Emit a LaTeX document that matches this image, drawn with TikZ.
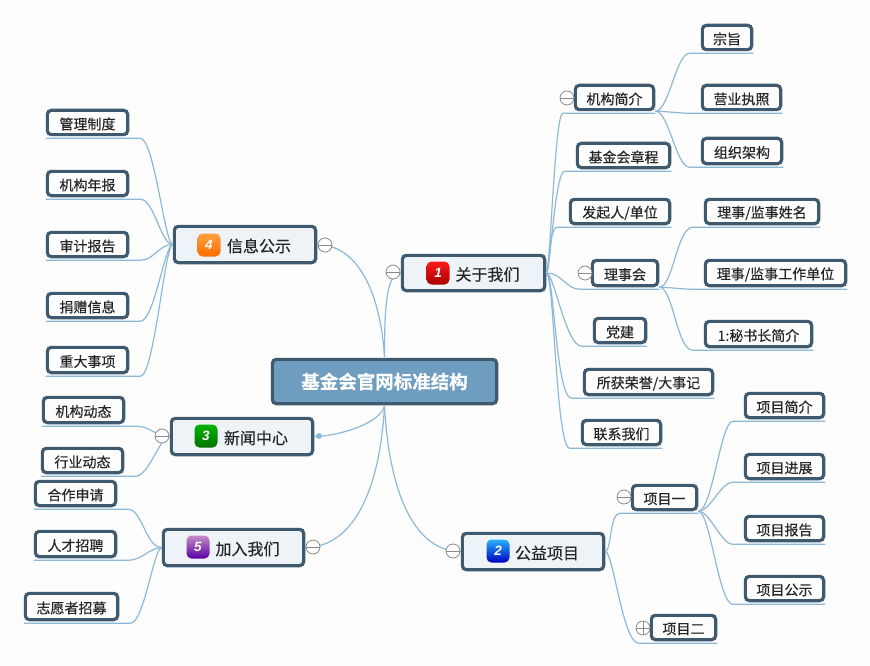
\documentclass[tikz,border=0pt]{standalone}
\usepackage{fontspec}
\setmainfont[FakeBold=0.35,BoldFont={Noto Sans CJK SC Bold}]{Noto Sans CJK SC}
\newfontfamily\numf{Liberation Sans}
\usetikzlibrary{calc}
\definecolor{bord}{HTML}{3F5A6E}
\definecolor{boxf}{HTML}{EEF3F7}
\definecolor{rootf}{HTML}{6F9DBF}
\definecolor{linec}{HTML}{8DB9D6}
\definecolor{bg}{HTML}{FDFDFD}
\definecolor{minc}{HTML}{8A8A8A}
\tikzset{
  boxbase/.style={draw=bord,line width=3.2pt,rounded corners=4pt,fill=boxf,inner sep=0pt,text=black!85},
  leafbox/.style={boxbase,fill=bg,font=\fontsize{14}{14}\selectfont},
  mainbox/.style={boxbase,font=\fontsize{16}{16}\selectfont},
  rootbox/.style={boxbase,fill=rootf,text=white,font=\fontsize{18.5}{18}\selectfont\bfseries},
  conn/.style={draw=linec,line width=1.2pt},
  badge/.style={circle,draw=minc,line width=.8pt,fill=white,minimum size=14pt,inner sep=0pt,
    path picture={\draw[minc,line width=.8pt] (path picture bounding box.west)--(path picture bounding box.east);}},
  plusbadge/.style={badge,
    path picture={\draw[minc,line width=.8pt] (path picture bounding box.north)--(path picture bounding box.south);}},
  iconbox/.style={rounded corners=5pt,minimum size=23pt,inner sep=0pt,text=white,
    font=\numf\fontsize{13.5}{13}\selectfont\bfseries\itshape},
  dotn/.style={circle,fill=linec,minimum size=6pt,inner sep=0pt},
}
\newcommand\bx[7]{\node[#6,minimum width={(#4-#2-2.7)*1pt},minimum height={(#5-#3-2.7)*1pt}] (#1) at ({(#2+#4)/2},{(#3+#5)/2}) {\raisebox{-1.5pt}[\height][\depth]{#7}};}
\newcommand\lk[5]{\draw[conn] (#1) .. controls ($(#1)+(#3,0)$) and ($(#2)+(#4,0)$) .. (#2) #5;}
% under-line connectors: curve ends a little before the child's edge, then runs under it
\newcommand\rk[4]{\lk{#1}{$(#2.south west)+(-11,2)$}{#3}{#4}{-- ($(#2.south east)+(0,2)$)}}
\newcommand\lf[4]{\lk{#1}{$(#2.south east)+(11,2)$}{#3}{#4}{-- ($(#2.south west)+(0,2)$)}}
\begin{document}
\begin{tikzpicture}[x=1pt,y=-1pt]
\useasboundingbox[fill=bg] (0,0) rectangle (870,666);
\bx{root}{271}{358}{498}{405}{rootbox}{\raisebox{1.5pt}[\height][\depth]{基金会官网标准结构}}
\bx{gy}{401}{254}{546}{292}{mainbox}{\hspace*{28pt}关于我们}
\bx{xx}{173}{225}{317}{264}{mainbox}{\hspace*{28pt}信息公示}
\bx{xw}{170}{417}{314}{456}{mainbox}{\hspace*{28pt}新闻中心}
\bx{jr}{162}{528}{305}{567}{mainbox}{\hspace*{28pt}加入我们}
\bx{gx}{461}{532}{605}{571}{mainbox}{\hspace*{28pt}公益项目}
\bx{zz}{701}{24}{753}{51}{leafbox}{宗旨}
\bx{yy}{701}{84}{782}{111}{leafbox}{营业执照}
\bx{zj}{701}{137}{783}{165}{leafbox}{组织架构}
\bx{jg}{574}{84}{655}{111}{leafbox}{机构简介}
\bx{jj}{576}{142}{671}{169}{leafbox}{基金会章程}
\bx{fq}{569}{198}{671}{225}{leafbox}{发起人/单位}
\bx{ls}{591}{259}{659}{287}{leafbox}{理事会}
\bx{dj}{593}{317}{647}{344}{leafbox}{党建}
\bx{ry}{583}{368}{714}{396}{leafbox}{所获荣誉/大事记}
\bx{lx}{581}{419}{662}{446}{leafbox}{联系我们}
\bx{lxm}{704}{198}{820}{225}{leafbox}{理事/监事姓名}
\bx{lgz}{704}{259}{847}{287}{leafbox}{理事/监事工作单位}
\bx{ms}{704}{320}{813}{348}{leafbox}{1:秘书长简介}
\bx{xj}{744}{392}{825}{419}{leafbox}{项目简介}
\bx{xz}{744}{453}{825}{480}{leafbox}{项目进展}
\bx{xb}{744}{515}{825}{542}{leafbox}{项目报告}
\bx{xg}{744}{575}{825}{602}{leafbox}{项目公示}
\bx{xy}{631}{484}{698}{511}{leafbox}{项目一}
\bx{xe}{650}{614}{717}{641}{leafbox}{项目二}
\bx{gl}{46}{109}{129}{136}{leafbox}{管理制度}
\bx{nb}{46}{170}{129}{197}{leafbox}{机构年报}
\bx{sj}{46}{231}{129}{258}{leafbox}{审计报告}
\bx{jz}{46}{292}{129}{319}{leafbox}{捐赠信息}
\bx{zd}{46}{346}{129}{374}{leafbox}{重大事项}
\bx{dt}{42}{396}{125}{424}{leafbox}{机构动态}
\bx{hy}{41}{447}{124}{474}{leafbox}{行业动态}
\bx{hz}{34}{480}{117}{507}{leafbox}{合作申请}
\bx{rc}{34}{530}{117}{558}{leafbox}{人才招聘}
\bx{zy}{24}{592}{119}{621}{leafbox}{志愿者招募}
\node[iconbox,top color=red!90!white,bottom color=red!65!black] (i1) at (438,273) {1};
\node[iconbox,top color=blue!35!cyan!85!white,bottom color=blue!75!black] (i2) at (498,551) {2};
\node[iconbox,top color=green!70!black,bottom color=green!45!black] (i3) at (206,436) {3};
\node[iconbox,top color=orange!75!white,bottom color=orange!85!red] (i4) at (209,245) {4};
\node[iconbox,top color=violet!45!white,bottom color=violet!70!blue] (i5) at (198,547) {5};
\coordinate (rt) at ($(root.north)+(0,-1)$);
\coordinate (rb) at ($(root.south)+(0,1)$);
\draw[conn] (rt) .. controls +(0,-45) and ($(gy.west)+(-15,0)$) .. (gy.west);
\draw[conn] (rt) .. controls +(-5,-75) and ($(xx.east)+(35,0)$) .. (xx.east);
\draw[conn] (rb) .. controls +(-5,18) and ($(xw.east)+(22,0)$) .. (xw.east);
\draw[conn] (rb) .. controls +(-5,90) and ($(jr.east)+(45,0)$) .. (jr.east);
\draw[conn] (rb) .. controls +(5,90) and ($(gx.west)+(-45,0)$) .. (gx.west);
\rk{gy.east}{jg}{4}{-8}
\rk{gy.east}{jj}{4}{-10}
\rk{gy.east}{fq}{4}{-10}
\rk{gy.east}{ls}{16}{-14}
\rk{gy.east}{dj}{8}{-16}
\rk{gy.east}{ry}{8}{-16}
\rk{gy.east}{lx}{8}{-14}
\rk{jg.south east}{zz}{14}{-14}
\rk{jg.south east}{yy}{10}{-10}
\rk{jg.south east}{zj}{14}{-14}
\rk{ls.south east}{lxm}{14}{-16}
\rk{ls.south east}{lgz}{10}{-10}
\rk{ls.south east}{ms}{14}{-16}
\rk{gx.east}{xy}{6}{-10}
\rk{gx.east}{xe}{8}{-16}
\rk{xy.south east}{xj}{14}{-12}
\rk{xy.south east}{xz}{12}{-12}
\rk{xy.south east}{xb}{12}{-12}
\rk{xy.south east}{xg}{12}{-14}
\lf{xx.west}{gl}{-8}{14}
\lf{xx.west}{nb}{-12}{14}
\lf{xx.west}{sj}{-14}{14}
\lf{xx.west}{jz}{-8}{14}
\lf{xx.west}{zd}{-8}{14}
\lf{xw.west}{dt}{-14}{14}
\lf{xw.west}{hy}{-10}{14}
\lf{jr.west}{hz}{-16}{14}
\lf{jr.west}{rc}{-12}{14}
\lf{jr.west}{zy}{-8}{14}
\node[badge] (c1) at (393,272) {};
\node[badge] (c2) at (453,551) {};
\node[badge] (c3) at (162,436) {};
\node[badge] (c4) at (325,245) {};
\node[badge] (c5) at (313,547) {};
\node[badge] (c6) at (567,98) {};
\node[badge] (c7) at (585,273) {};
\node[badge] (c8) at (624,497) {};
\node[plusbadge] (c9) at (643,628) {};
\draw[minc,line width=.8pt] (c9.west) -- (c9.east);
\node[dotn] (d3) at (319,436) {};
\end{tikzpicture}
\end{document}
